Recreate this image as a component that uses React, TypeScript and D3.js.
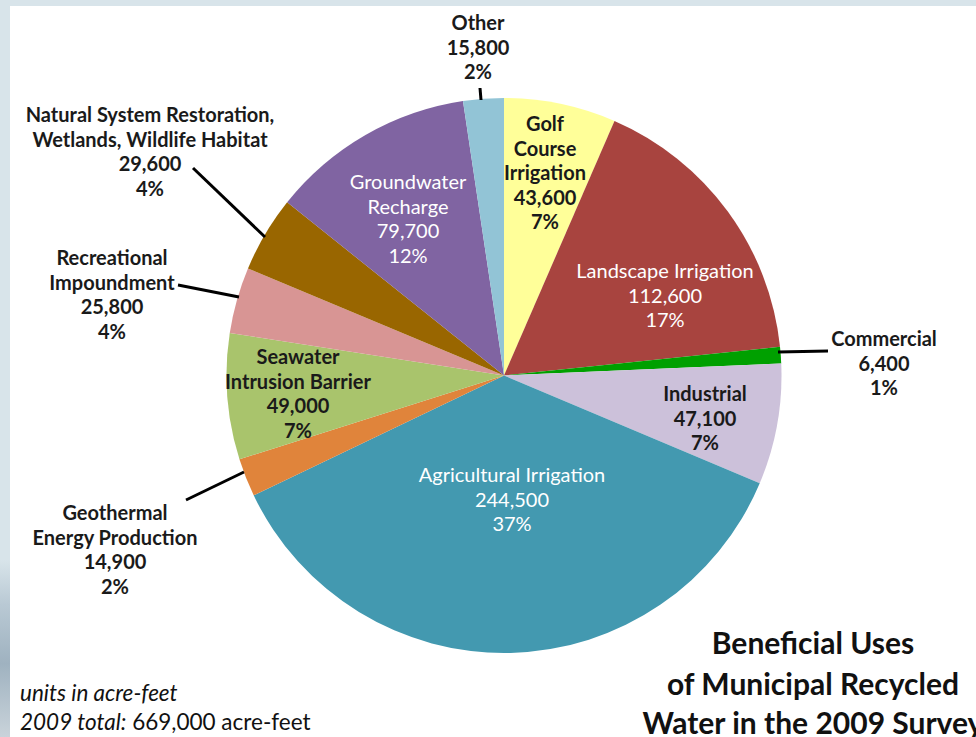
import React from "react";
import * as d3 from "d3";

// ---- data ----
const categories = [
  "Golf Course Irrigation",
  "Landscape Irrigation",
  "Commercial",
  "Industrial",
  "Agricultural Irrigation",
  "Geothermal Energy Production",
  "Seawater Intrusion Barrier",
  "Recreational Impoundment",
  "Natural System Restoration, Wetlands, Wildlife Habitat",
  "Groundwater Recharge",
  "Other",
];
const values = [43600, 112600, 6400, 47100, 244500, 14900, 49000, 25800, 29600, 79700, 15800];
// how each category name is broken across lines in its label
const nameLines = [
  ["Golf", "Course", "Irrigation"],
  ["Landscape Irrigation"],
  ["Commercial"],
  ["Industrial"],
  ["Agricultural Irrigation"],
  ["Geothermal", "Energy Production"],
  ["Seawater", "Intrusion Barrier"],
  ["Recreational", "Impoundment"],
  ["Natural System Restoration,", "Wetlands, Wildlife Habitat"],
  ["Groundwater", "Recharge"],
  ["Other"],
];
const totalLabel = "669,000";

// ---- styles / layout ----
const colors = [
  "#ffff99",
  "#a8443f",
  "#00a000",
  "#ccc1da",
  "#4399b0",
  "#e0843b",
  "#a9c46c",
  "#d89594",
  "#996600",
  "#8064a2",
  "#92c4d6",
];
const whiteText = [false, true, false, false, true, false, false, false, false, true, false];
// label anchor: centre x, centre y of first line
const labelPos: [number, number][] = [
  [545, 123],
  [665, 270],
  [884, 338],
  [705, 393],
  [512, 474],
  [115, 512],
  [298, 356],
  [112, 257],
  [150, 114],
  [408, 181],
  [478, 22],
];
const leaders: ([number, number][] | null)[] = [
  null,
  null,
  [[778, 352], [828, 351]],
  null,
  null,
  [[186, 500], [244, 472]],
  null,
  [[178, 285], [239, 297]],
  [[193, 168], [265, 237]],
  null,
  [[480, 88], [481, 100]],
];

const W = 976;
const H = 737;
const CX = 504;
const CY = 375.5;
const R = 277.5;
const LH = 24.5;
const FONT = "Lato, 'Open Sans', sans-serif";

export default function App() {
  const total = d3.sum(values);
  const pie = d3
    .pie<number>()
    .sort(null)
    .value((d) => d)(values);
  const arc = d3.arc<d3.PieArcDatum<number>>().innerRadius(0).outerRadius(R);
  const fmt = d3.format(",");

  return (
    <svg
      width={W}
      height={H}
      style={{ position: "absolute", left: 0, top: 0 }}
      fontFamily={FONT}
    >
      <defs>
        <linearGradient id="sideImg" x1="0" y1="0" x2="0" y2="1">
          <stop offset="0" stopColor="#d8e4ea" />
          <stop offset="0.76" stopColor="#d8e4ea" />
          <stop offset="0.82" stopColor="#b9c9d4" />
          <stop offset="0.9" stopColor="#9fb2c0" />
          <stop offset="1" stopColor="#c9d3da" />
        </linearGradient>
      </defs>
      <rect x={0} y={0} width={W} height={H} fill="#ffffff" />
      <rect x={0} y={0} width={W} height={6} fill="#d8e4ea" />
      <rect x={0} y={0} width={10} height={H} fill="url(#sideImg)" />

      <g transform={`translate(${CX},${CY})`}>
        {pie.map((p, i) => (
          <path key={i} d={arc(p) || ""} fill={colors[i]} />
        ))}
      </g>

      {leaders.map((l, i) =>
        l ? (
          <path
            key={"l" + i}
            d={d3.line()(l) || ""}
            stroke="#000"
            strokeWidth={3}
            fill="none"
          />
        ) : null
      )}

      {categories.map((c, i) => {
        const lines = [
          ...nameLines[i],
          fmt(values[i]),
          Math.round((values[i] / total) * 100) + "%",
        ];
        const [x, y] = labelPos[i];
        return (
          <text
            key={"t" + i}
            x={x}
            textAnchor="middle"
            fontSize={20}
            fontWeight={whiteText[i] ? 400 : 700}
            fill={whiteText[i] ? "#ffffff" : "#1a1a1a"}
          >
            {lines.map((s, j) => (
              <tspan key={j} x={x} y={y + j * LH} dominantBaseline="central">
                {s}
              </tspan>
            ))}
          </text>
        );
      })}

      <text x={813} textAnchor="middle" fontSize={30} fontWeight={700} fill="#111">
        <tspan x={813} y={642} dominantBaseline="central">Beneficial Uses</tspan>
        <tspan x={813} y={683} dominantBaseline="central">of Municipal Recycled</tspan>
        <tspan x={813} y={722} dominantBaseline="central">Water in the 2009 Survey</tspan>
      </text>

      <text x={20} y={692} fontSize={22.5} fill="#111" dominantBaseline="central">
        <tspan fontStyle="italic">units in acre-feet</tspan>
      </text>
      <text x={20} y={721} fontSize={22.5} fill="#111" dominantBaseline="central">
        <tspan fontStyle="italic">2009 total:</tspan>
        <tspan> {totalLabel} acre-feet</tspan>
      </text>
    </svg>
  );
}
